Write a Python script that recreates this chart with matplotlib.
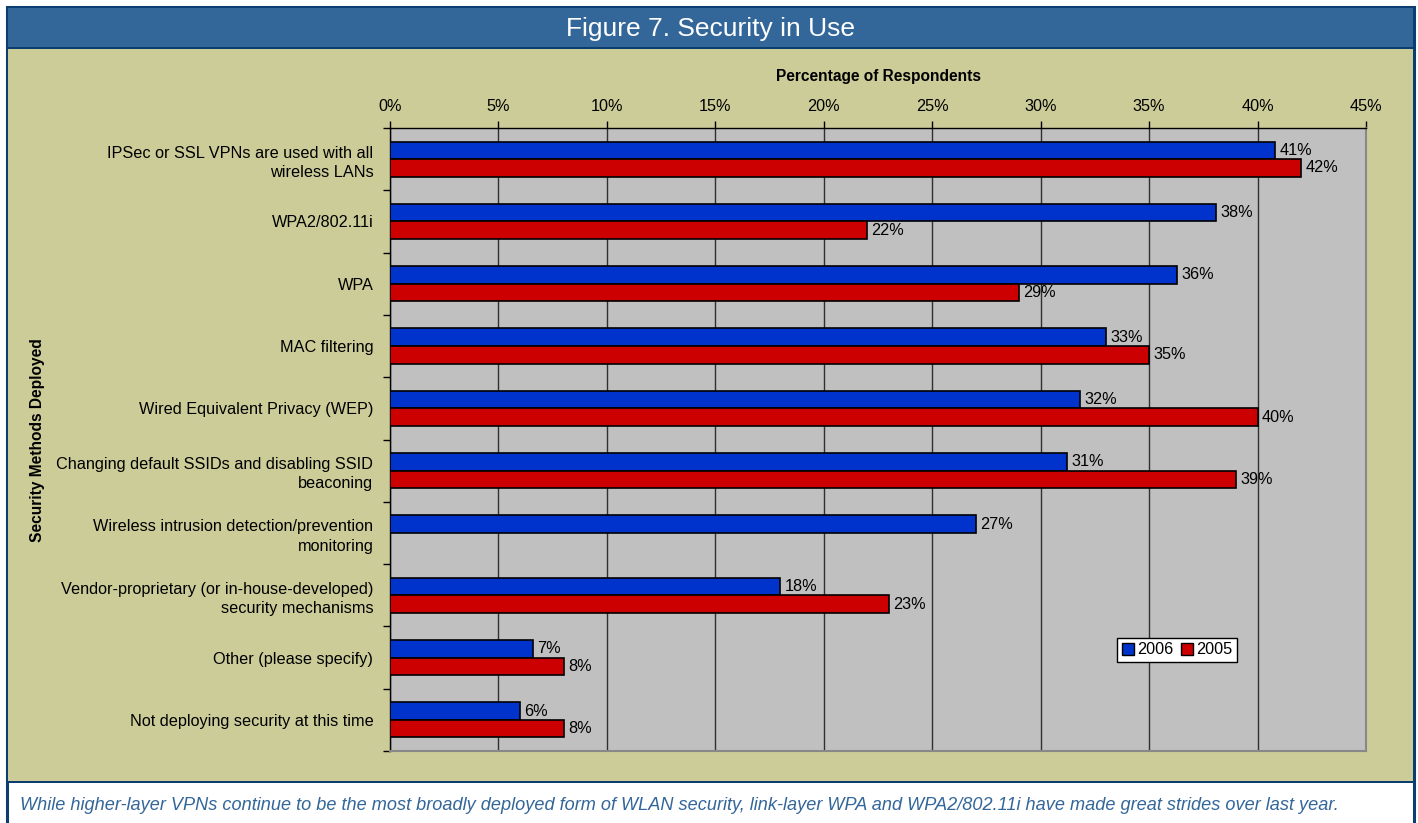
import numpy as np
import matplotlib
matplotlib.use("Agg")
import matplotlib.pyplot as plt
from matplotlib.patches import Rectangle, Patch

plt.rcParams['font.family'] = ['Liberation Sans', 'DejaVu Sans']

# data (percent of respondents)
categories = [
    "IPSec or SSL VPNs are used with all\nwireless LANs",
    "WPA2/802.11i",
    "WPA",
    "MAC filtering",
    "Wired Equivalent Privacy (WEP)",
    "Changing default SSIDs and disabling SSID\nbeaconing",
    "Wireless intrusion detection/prevention\nmonitoring",
    "Vendor-proprietary (or in-house-developed)\nsecurity mechanisms",
    "Other (please specify)",
    "Not deploying security at this time",
]
vals_2006 = [40.8, 38.1, 36.3, 33.0, 31.8, 31.2, 27.0, 18.0, 6.6, 6.0]
vals_2005 = [42.0, 22.0, 29.0, 35.0, 40.0, 39.0, None, 23.0, 8.0, 8.0]
xticks = [0, 5, 10, 15, 20, 25, 30, 35, 40, 45]

W, H = 1418, 823
fig = plt.figure(figsize=(W / 100, H / 100), dpi=100)
fig.patch.set_facecolor("white")


def box(x0, y0, x1, y1, **kw):
    # rectangle in pixel coords, y measured from the top; kept behind the axes
    fig.patches.append(Rectangle((x0 / W, 1 - y1 / H), (x1 - x0) / W, (y1 - y0) / H,
                                 transform=fig.transFigure, figure=fig, zorder=-5, **kw))


# frame, title bar, khaki panel, caption strip
box(7, 7, 1414, 830, facecolor="white", edgecolor="#0c3d70", lw=2.2)
box(8, 8, 1413, 47, facecolor="#336699", edgecolor="none")
box(8, 47, 1413, 49, facecolor="#0c3d70", edgecolor="none")
box(8, 49, 1413, 781, facecolor="#cccc99", edgecolor="none")
box(8, 781, 1413, 783, facecolor="#0c3d70", edgecolor="none")

fig.text(710 / W, 1 - 29 / H, "Figure 7. Security in Use", color="white",
         fontsize=19, ha="center", va="center")
fig.text(20 / W, 1 - 806 / H,
         "While higher-layer VPNs continue to be the most broadly deployed form of WLAN security, "
         "link-layer WPA and WPA2/802.11i have made great strides over last year.",
         color="#336699", fontsize=13.1, style="italic", ha="left", va="center")

ax = fig.add_axes([390 / W, 1 - 751 / H, 976 / W, 623 / H])
ax.set_facecolor("#c0c0c0")

n = len(categories)
y = np.arange(n)
h = 0.283
b06 = ax.barh(y - h / 2, vals_2006, height=h, color="#0033cc", edgecolor="black",
              lw=1.2, label="2006", zorder=3)
v05 = [v if v is not None else 0 for v in vals_2005]
b05 = ax.barh(y + h / 2, v05, height=h, color="#cc0000", edgecolor="black",
              lw=1.2, label="2005", zorder=3)
for i in range(n):
    ax.text(vals_2006[i] + 0.2, y[i] - h / 2, f"{round(vals_2006[i])}%",
            va="center", ha="left", fontsize=11.7, zorder=4)
    if vals_2005[i] is not None:
        ax.text(vals_2005[i] + 0.2, y[i] + h / 2, f"{round(vals_2005[i])}%",
                va="center", ha="left", fontsize=11.7, zorder=4)
    else:
        b05[i].set_visible(False)

ax.set_xlim(0, 45)
ax.set_ylim(n - 0.5, -0.5)
ax.xaxis.tick_top()
ax.xaxis.set_label_position("top")
ax.set_xticks(xticks)
ax.set_xticklabels([f"{t}%" for t in xticks], fontsize=11.7)
ax.tick_params(axis="x", length=5, width=1, color="black", pad=5)
ax.grid(axis="x", color="#303030", lw=1, zorder=0)
ax.set_axisbelow(True)

ax.set_yticks(y)
ax.set_yticklabels(categories, fontsize=11.7, linespacing=1.35)
ax.set_yticks(np.arange(n + 1) - 0.5, minor=True)
ax.tick_params(axis="y", which="major", length=0, pad=12)
ax.tick_params(axis="y", which="minor", length=5, width=1, color="black")

for s in ["right", "bottom"]:
    ax.spines[s].set_color("#888888")
    ax.spines[s].set_linewidth(1.5)
for s in ["left", "top"]:
    ax.spines[s].set_color("black")
    ax.spines[s].set_linewidth(1)

fig.text(878 / W, 1 - 76 / H, "Percentage of Respondents", fontsize=11.2,
         fontweight="bold", ha="center", va="center")
fig.text(38 / W, 1 - 440 / H, "Security Methods Deployed", fontsize=11.2,
         fontweight="bold", rotation=90, ha="center", va="center")

handles = [Patch(facecolor="#0033cc", edgecolor="black", label="2006"),
           Patch(facecolor="#cc0000", edgecolor="black", label="2005")]
leg = ax.legend(handles=handles, ncol=2, loc="center", fontsize=11.7,
                bbox_to_anchor=((1177 - 390) / 976, (751 - 650) / 623),
                fancybox=False, framealpha=1, edgecolor="black",
                handlelength=0.7, handleheight=0.7, handletextpad=0.2,
                columnspacing=0.5, borderpad=0.3, borderaxespad=0)
leg.get_frame().set_linewidth(1)

fig.savefig("out.png", dpi=100)
